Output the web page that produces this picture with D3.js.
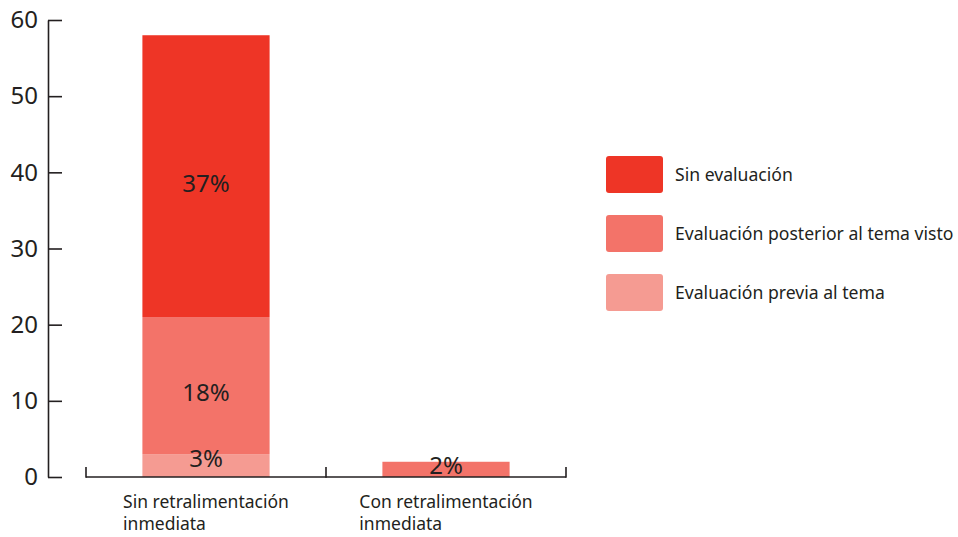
<!doctype html>
<meta charset="utf-8">
<style>
  body { margin: 0; background: #fff; }
  text { font-family: "Noto Sans", "Open Sans", sans-serif; fill: #231f20; }
</style>
<body>
<script src="https://cdn.jsdelivr.net/npm/d3@7"></script>
<script>
var categories = ['Sin retralimentación inmediata', 'Con retralimentación inmediata'],
  catLines = [['Sin retralimentación', 'inmediata'], ['Con retralimentación', 'inmediata']],
  series = ['Evaluación previa al tema', 'Evaluación posterior al tema visto', 'Sin evaluación'],
  colors = ['#f59b92', '#f37369', '#ee3526'],
  previa = [3, 0],
  posterior = [18, 2],
  sinEval = [37, 0],
  yTicks = [0, 10, 20, 30, 40, 50, 60];

var width = 958, height = 537;
var svg = d3.select('body').append('svg').attr('width', width).attr('height', height);

var y = d3.scaleLinear().domain([0, 60]).range([477, 20]);
var x = d3.scaleBand().domain(categories).range([86, 566]).paddingInner(0.47).paddingOuter(0.235);

var rows = categories.map(function(c, i) {
  return { cat: c, previa: previa[i], posterior: posterior[i], sin: sinEval[i] };
});
var stack = d3.stack().keys(['previa', 'posterior', 'sin'])(rows);

// segments flattened so labels can go on top of every bar
var segs = [];
stack.forEach(function(layer, i) {
  layer.forEach(function(d) {
    if (d[1] - d[0] > 0) segs.push({ i: i, cat: d.data.cat, y0: d[0], y1: d[1] });
  });
});

svg.append('g').selectAll('rect').data(segs).enter().append('rect')
  .attr('x', function(d) { return x(d.cat); })
  .attr('width', x.bandwidth())
  .attr('y', function(d) { return y(d.y1); })
  .attr('height', function(d) { return y(d.y0) - y(d.y1); })
  .attr('fill', function(d) { return colors[d.i]; });

// value labels
svg.append('g').selectAll('text').data(segs).enter().append('text')
  .attr('x', function(d) { return x(d.cat) + x.bandwidth() / 2; })
  .attr('y', function(d) {
    var v = d.y1 - d.y0;
    return v < 5 ? y(d.y1) + 4 : y((d.y0 + d.y1) / 2) + 7;
  })
  .attr('dy', '0.35em')
  .attr('text-anchor', 'middle')
  .style('font-size', '24px')
  .text(function(d) { return (d.y1 - d.y0) + '%'; });

// y axis, ticks pointing inward
var yAxis = svg.append('g').attr('transform', 'translate(48,0)')
  .call(d3.axisLeft(y).tickValues(yTicks).tickSizeInner(-14).tickSizeOuter(0).tickPadding(10));
yAxis.selectAll('text').style('font-size', '24px').attr('fill', '#231f20');
yAxis.selectAll('line, path').attr('stroke', '#231f20').attr('stroke-width', 1.6);

// x axis: base line with upward ticks at band boundaries
var step = x.step(), half = step * x.paddingInner() / 2;
var bounds = categories.map(function(c) { return x(c) - half; });
bounds.push(x(categories[categories.length - 1]) + x.bandwidth() + half);

var xAxis = svg.append('g');
xAxis.append('line')
  .attr('x1', bounds[0]).attr('x2', bounds[bounds.length - 1])
  .attr('y1', y(0)).attr('y2', y(0))
  .attr('stroke', '#231f20').attr('stroke-width', 1.6);
xAxis.selectAll('line.tick').data(bounds).enter().append('line')
  .attr('class', 'tick')
  .attr('x1', function(d) { return d; }).attr('x2', function(d) { return d; })
  .attr('y1', y(0) + 0.8).attr('y2', y(0) - 10)
  .attr('stroke', '#231f20').attr('stroke-width', 1.6);

// category labels, two lines left-aligned and centred as a block
categories.forEach(function(c, i) {
  var cx = x(c) + x.bandwidth() / 2;
  var t = svg.append('text').style('font-size', '17.5px');
  t.selectAll('tspan').data(catLines[i]).enter().append('tspan')
    .attr('y', function(d, j) { return 508 + j * 22; })
    .text(function(d) { return d; });
  var w = t.select('tspan').node().getComputedTextLength();
  t.selectAll('tspan').attr('x', cx - w / 2);
});

// legend
var legendOrder = [2, 1, 0];
var legend = svg.append('g').attr('transform', 'translate(606,156)');
var items = legend.selectAll('g').data(legendOrder).enter().append('g')
  .attr('transform', function(d, i) { return 'translate(0,' + (i * 59) + ')'; });
items.append('rect')
  .attr('width', 57).attr('height', 37).attr('rx', 3)
  .attr('fill', function(d) { return colors[d]; });
items.append('text')
  .attr('x', 69).attr('y', 18.5).attr('dy', '0.35em')
  .style('font-size', '17.6px')
  .text(function(d) { return series[d]; });
</script>
</body>
